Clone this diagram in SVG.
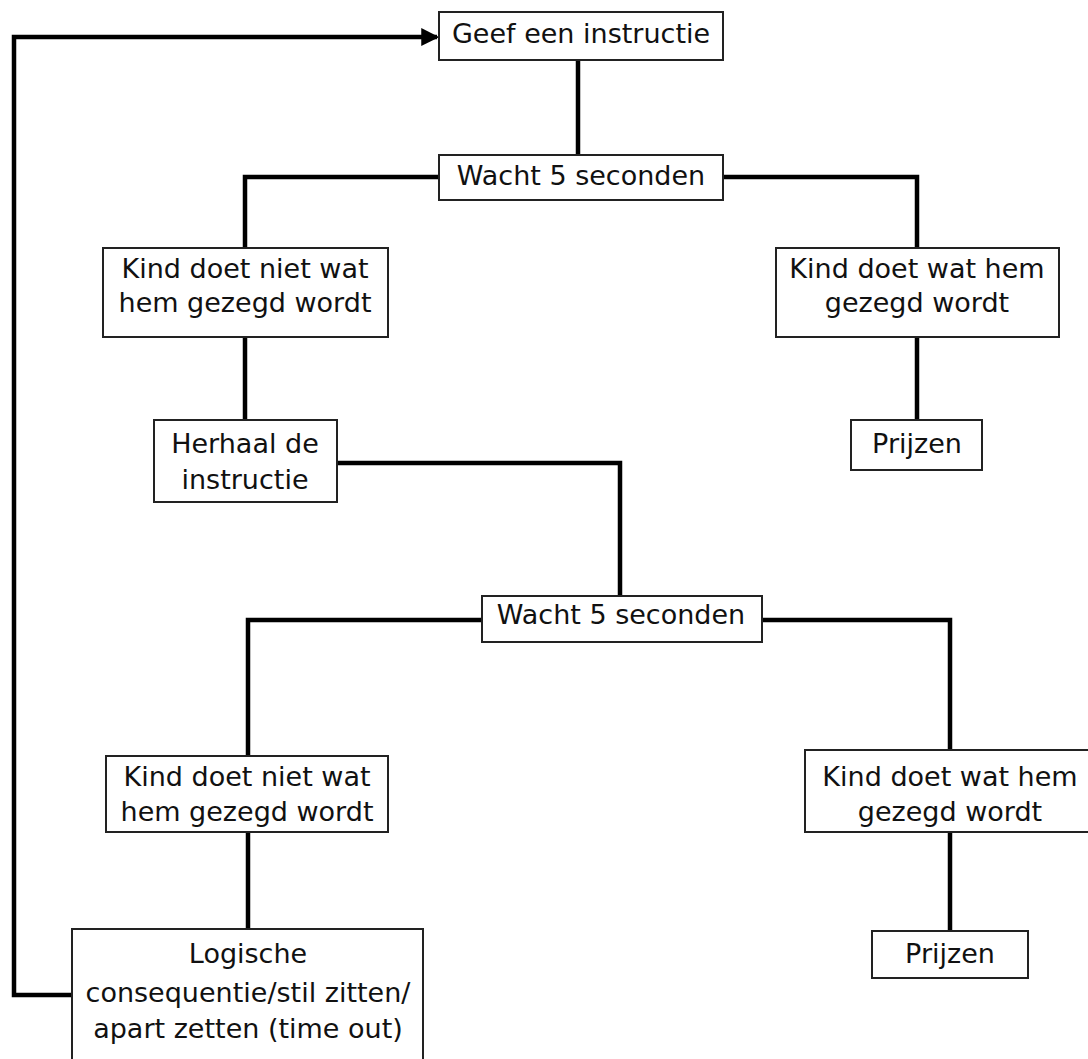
<svg xmlns="http://www.w3.org/2000/svg" width="1088" height="1059" viewBox="0 0 1088 1059">
<style>
.box{fill:#fff;stroke:#222;stroke-width:2}
.t{font-family:"DejaVu Sans",Verdana,sans-serif;font-size:27px;fill:#111;text-anchor:middle}
.c{fill:none;stroke:#000;stroke-width:4.5;stroke-linejoin:miter}
</style>
<defs>
<marker id="arr" markerWidth="4" markerHeight="4" refX="3.5" refY="2" orient="auto" markerUnits="strokeWidth">
<path d="M0,0 L4,2 L0,4 Z" fill="#000"/>
</marker>
</defs>
<rect width="1088" height="1059" fill="#fff"/>
<g id="connectors">
<path class="c" d="M578,60 V155"/>
<path class="c" d="M439,177 H245 V248"/>
<path class="c" d="M723,177 H917 V248"/>
<path class="c" d="M245,337 V420"/>
<path class="c" d="M917,337 V420"/>
<path class="c" d="M338,463 H620 V596"/>
<path class="c" d="M482,620 H248 V756"/>
<path class="c" d="M762,620 H950 V750"/>
<path class="c" d="M248,832 V929"/>
<path class="c" d="M950,832 V931"/>
<path class="c" d="M72,995 H14 V37 H437" marker-end="url(#arr)"/>
</g>
<g id="n1"><rect class="box" x="439" y="12" width="284" height="48"/><text class="t" x="581" y="43">Geef een instructie</text></g>
<g id="n2"><rect class="box" x="439" y="155" width="284" height="45"/><text class="t" x="581" y="185">Wacht 5 seconden</text></g>
<g id="n3"><rect class="box" x="103" y="248" width="285" height="89"/><text class="t" x="245" y="278">Kind doet niet wat</text><text class="t" x="245" y="312">hem gezegd wordt</text></g>
<g id="n4"><rect class="box" x="776" y="248" width="283" height="89"/><text class="t" x="917" y="278">Kind doet wat hem</text><text class="t" x="917" y="312">gezegd wordt</text></g>
<g id="n5"><rect class="box" x="154" y="420" width="183" height="82"/><text class="t" x="245" y="453">Herhaal de</text><text class="t" x="245" y="489">instructie</text></g>
<g id="n6"><rect class="box" x="851" y="420" width="131" height="50"/><text class="t" x="917" y="453">Prijzen</text></g>
<g id="n7"><rect class="box" x="482" y="596" width="280" height="46"/><text class="t" x="621" y="624">Wacht 5 seconden</text></g>
<g id="n8"><rect class="box" x="106" y="756" width="282" height="76"/><text class="t" x="247" y="786">Kind doet niet wat</text><text class="t" x="247" y="821">hem gezegd wordt</text></g>
<g id="n9"><rect class="box" x="805" y="750" width="290" height="82"/><text class="t" x="950" y="786">Kind doet wat hem</text><text class="t" x="950" y="821">gezegd wordt</text></g>
<g id="n10"><rect class="box" x="72" y="929" width="351" height="140"/><text class="t" x="248" y="963">Logische</text><text class="t" x="248" y="1002">consequentie/stil zitten/</text><text class="t" x="248" y="1038">apart zetten (time out)</text></g>
<g id="n11"><rect class="box" x="872" y="931" width="156" height="47"/><text class="t" x="950" y="963">Prijzen</text></g>
</svg>
